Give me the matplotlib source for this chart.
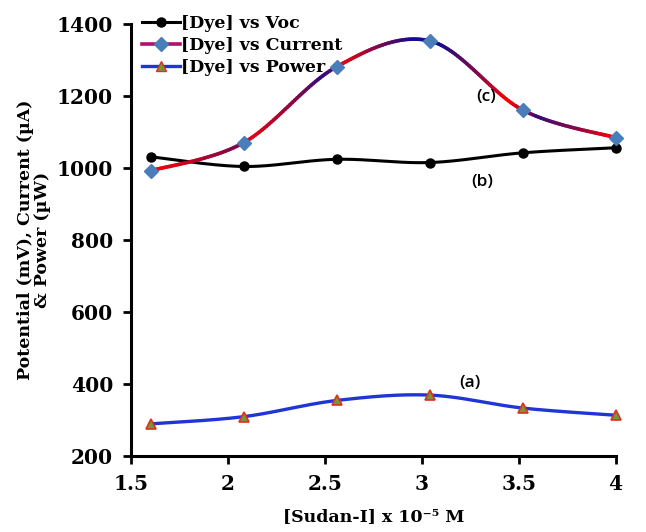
import numpy as np
import matplotlib
matplotlib.use("Agg")
import matplotlib.pyplot as plt
from matplotlib.collections import LineCollection
from matplotlib.lines import Line2D

# ---- data ----
conc = [1.6, 2.08, 2.56, 3.04, 3.52, 4.0]
voc = [1031, 1004, 1024, 1015, 1042, 1056]
current = [992, 1070, 1281, 1353, 1161, 1084]
power = [289, 309, 354, 369, 333, 313]
xticks = [1.5, 2, 2.5, 3, 3.5, 4]
yticks = [200, 400, 600, 800, 1000, 1200, 1400]
series_labels = ["[Dye] vs Voc", "[Dye] vs Current", "[Dye] vs Power"]
annotations = [("(a)", 3.25, 402), ("(b)", 3.31, 961), ("(c)", 3.33, 1197)]


def smooth(xs, ys, n=40):
    P = np.column_stack([xs, ys]).astype(float)
    out = []
    for i in range(len(P) - 1):
        p0 = P[i - 1] if i > 0 else P[i]
        p1 = P[i]
        p2 = P[i + 1]
        p3 = P[i + 2] if i + 2 < len(P) else P[i + 1]
        c1 = p1 + (p2 - p0) / 6.0
        c2 = p2 - (p3 - p1) / 6.0
        t = np.linspace(0, 1, n, endpoint=(i == len(P) - 2))[:, None]
        seg = ((1 - t) ** 3) * p1 + 3 * ((1 - t) ** 2) * t * c1 + 3 * (1 - t) * t ** 2 * c2 + t ** 3 * p2
        out.append(seg)
    out = np.vstack(out)
    return out[:, 0], out[:, 1]


serif = ["DejaVu Serif"]
fig = plt.figure(figsize=(6.46, 5.32), dpi=100)
ax = fig.add_axes([0.203, 0.143, 0.750, 0.812])

# Voc
sx, sy = smooth(conc, voc)
ax.plot(sx, sy, color="black", lw=2.2, zorder=3)
ax.plot(conc, voc, "o", color="black", ms=6.5, zorder=4)

# Current with red/blue gradient
sx, sy = smooth(conc, current)
anch_x = [1.6, 2.0, 2.08, 2.12, 2.35, 2.5, 2.56, 2.6, 2.8, 2.95, 3.1, 3.3, 3.45, 3.52, 3.6, 3.8, 4.0]
anch_t = [0.0, 0.5, 0.55, 0.1, 0.5, 0.9, 0.6, 0.1, 0.6, 1.0, 1.0, 0.5, 0.0, 0.3, 0.85, 0.5, 0.0]
red = np.array([1.0, 0.0, 0.0])
navy = np.array([0.08, 0.05, 0.55])
xm = 0.5 * (sx[:-1] + sx[1:])
tt = np.interp(xm, anch_x, anch_t)
cols = (1 - tt)[:, None] * red + tt[:, None] * navy
segs = np.stack([np.column_stack([sx[:-1], sy[:-1]]), np.column_stack([sx[1:], sy[1:]])], axis=1)
lc = LineCollection(segs, colors=cols, linewidths=2.6, zorder=3, capstyle="round")
ax.add_collection(lc)
ax.plot(conc, current, "D", color="#4a7ebb", ms=7, mec="#4a7ebb", zorder=4)

# Power
sx, sy = smooth(conc, power)
ax.plot(sx, sy, color="#1f35d6", lw=2.4, zorder=3)
ax.plot(conc, power, "^", mfc="#6f9a3a", mec="#e0301e", mew=1.2, ms=7, zorder=4)

for txt, x, y in annotations:
    ax.text(x, y, txt, fontsize=12.5, family=["Open Sans", "DejaVu Sans"], fontweight="semibold",
            ha="center", va="center")

ax.set_xlim(1.5, 4.0)
ax.set_ylim(200, 1400)
ax.set_xticks(xticks)
ax.set_xticklabels([f"{v:g}" for v in xticks])
ax.set_yticks(yticks)
ax.set_yticklabels([str(v) for v in yticks])
for lab in ax.get_xticklabels() + ax.get_yticklabels():
    lab.set_family(serif)
    lab.set_fontweight("bold")
    lab.set_fontsize(14.5)
ax.tick_params(axis="both", direction="out", length=6, width=2, pad=7)
ax.spines["top"].set_visible(False)
ax.spines["right"].set_visible(False)
ax.spines["left"].set_linewidth(2.2)
ax.spines["bottom"].set_linewidth(2.2)
for art in ax.get_children():
    try:
        art.set_clip_on(False)
    except Exception:
        pass

ax.set_xlabel("[Sudan-I] x 10\u207b\u2075 M", fontsize=12.5, family=serif, fontweight="bold", labelpad=10)
ax.set_ylabel("Potential (mV), Current (\u00b5A)\n& Power (\u00b5W)", fontsize=12.5, family=serif,
              fontweight="bold", labelpad=4, linespacing=1.0)

handles = [
    Line2D([], [], color="black", lw=2.2, marker="o", ms=6.5),
    Line2D([], [], color="#b0106a", lw=2.6, marker="D", ms=7, mfc="#4a7ebb", mec="#4a7ebb"),
    Line2D([], [], color="#1f35d6", lw=2.4, marker="^", ms=7, mfc="#6f9a3a", mec="#e0301e"),
]
leg = ax.legend(handles, series_labels, loc="upper left", bbox_to_anchor=(0.0, 1.045), frameon=False,
                prop={"family": serif, "weight": "bold", "size": 12.5}, handlelength=2.2,
                handletextpad=0.1, labelspacing=0.3, borderaxespad=0.2)

fig.savefig("out.png", dpi=100)
